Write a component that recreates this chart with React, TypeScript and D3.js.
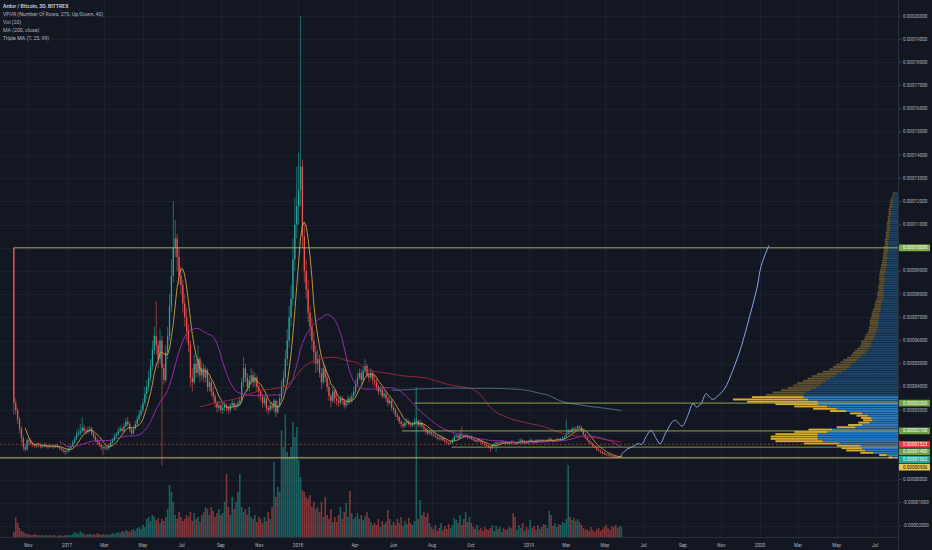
import React, { useEffect } from "react";
import * as d3 from "d3";

const W = 932;
const H = 550;
const PLOT_RIGHT = 898;
const PLOT_BOTTOM = 537;
const BG = "#131722";
const UP = "#26a69a";
const DOWN = "#ef5350";

// prices are in units of 1e-6 BTC, one candle every 3 days
const FIRST_DATE = Date.UTC(2016, 9, 9);
const BAR_DAYS = 3;
const FIRST_OPEN = 100;

const CLOSE = [
  33, 30, 26, 22, 18, 14, 13, 17, 16.5, 15.5,
  15, 14.5, 15, 14.8, 14.2, 14.5, 15, 14.3, 14.0, 14.6,
  14.5, 14.0, 14.8, 14.2, 13.5, 13.0, 12.5, 12.0, 12.2, 13.5,
  14.5, 16, 17.5, 19.5, 20, 21, 22.5, 21, 20.5, 21.5,
  22, 20, 18.5, 17, 16, 15, 14, 13.5, 14, 13.5,
  14.5, 16, 17, 18.5, 19.5, 21, 22, 21, 23, 25,
  24, 21.5, 20, 22, 24, 26, 28, 30, 33, 37,
  40, 44, 49, 56, 62, 58, 52, 60, 48, 43,
  55, 62, 75, 88, 100, 104, 96, 88, 84, 76,
  70, 64, 58, 44, 42, 50, 46, 52, 45, 48,
  44, 47, 40, 42, 38, 36, 33, 31, 32, 30,
  31, 32, 31, 30, 32, 33, 31.5, 32, 33, 34,
  42, 48, 44, 40, 43, 45, 42, 44, 40, 38,
  36, 33, 35, 31, 30, 32, 31, 34, 29, 32,
  35, 40, 44, 52, 60, 70, 78, 95, 110, 118,
  125, 135, 105, 90, 82, 72, 66, 60, 55, 50,
  52, 46, 42, 48, 44, 40, 36, 34, 38, 35,
  34, 33, 35, 34, 32, 33, 35, 34, 36, 38,
  41, 44, 46, 43, 47, 49, 45, 44, 46, 43,
  42, 40, 38, 39, 36, 37, 35, 33, 34, 31,
  30, 28, 27, 25, 24, 23, 24.5, 25, 24, 23.5,
  24, 25, 25.5, 23.5, 24.5, 23, 22, 21, 20, 20.5,
  19.5, 19, 18.5, 18, 17.5, 18, 17, 16.5, 16, 15.5,
  16, 17, 18.5, 19, 18, 19.5, 19, 18.5, 19, 18,
  18.3, 17.5, 17, 16.5, 17, 16.5, 16, 15.5, 15, 14.5,
  14, 13.5, 15, 15.5, 16, 15.5, 16, 16.5, 16, 15.5,
  16, 15.5, 16.5, 16, 15.5, 16, 16.5, 17, 16, 16.5,
  16, 16.5, 17, 16.5, 16, 17, 16.5, 17, 16.5, 17,
  16.5, 17, 17.5, 17, 16.5, 17, 17.5, 17, 17.5, 18,
  18.5, 20, 21, 20.5, 22, 21.5, 22, 23, 22.5, 21,
  19.5, 18, 17, 16, 15.5, 14.5, 14, 13, 12.5, 12,
  11.5, 11, 10.8, 10.5, 10.2, 10, 9.8, 9.6, 9.5, 9.8, 10.62,
];

const HIGH = [
  100, 35, 31, 27, 23, 19, 15, 18, 18, 17,
  16.5, 15.8, 15.8, 16, 15.5, 15.2, 16, 15.6, 15, 15.5,
  15.3, 15, 15.5, 15.2, 14.5, 14, 13.5, 13, 13, 14.2,
  15.5, 17, 18.5, 21, 22, 24, 27, 23.5, 22, 23,
  23, 22.8, 21, 19.5, 18, 17, 16, 15, 15, 15,
  15.5, 17, 18, 20, 20.5, 22.5, 23.5, 23, 24.5, 26.5,
  27, 25, 22.5, 23, 25.5, 27.5, 30, 32, 35, 40,
  43, 47, 52, 60, 66, 77, 60, 65, 62, 50,
  58, 66, 80, 95, 120, 112, 106, 100, 92, 86,
  80, 74, 67, 60, 48, 54, 52, 58, 53, 51,
  50, 49, 48, 44, 43, 40, 37, 34, 34, 33,
  32.5, 33.5, 33, 32, 33, 34.5, 34, 33, 34.5, 36,
  44, 53, 50, 46, 45, 48, 47, 46, 45, 41,
  39, 37, 36.5, 36, 32, 33.5, 33.5, 35, 34.5, 34,
  37, 43, 47, 56, 65, 75, 84, 104, 122, 135,
  141, 200, 138, 110, 95, 86, 75, 70, 64, 58,
  56, 54, 48, 51, 49, 46, 42, 37, 40, 39,
  38.5, 35.5, 36.5, 36, 35, 34.5, 36.5, 36, 37.5, 40,
  43, 46, 48, 47.5, 49, 52, 50, 47, 48, 47,
  45, 43.5, 41, 40.5, 40, 38.5, 38, 36, 35.5, 35,
  32, 31, 29, 27.5, 26, 25, 26, 26.5, 26, 25,
  25, 26.5, 26.5, 25.5, 26, 25, 24, 22.5, 22, 21.5,
  21, 20.5, 20, 19.5, 19, 19, 18.5, 18, 17, 16.5,
  16.8, 17.8, 19.5, 20, 19.5, 21, 23, 19.5, 20, 19.5,
  19, 19, 18, 17.5, 17.8, 17.5, 17, 16.5, 16, 15.5,
  15, 14.5, 15.5, 16, 16.5, 16.5, 16.5, 17, 17, 16.5,
  16.5, 16.5, 17, 17, 16.5, 16.5, 17.5, 18, 17.5, 17,
  17, 17, 18, 17.5, 17, 17.5, 17.5, 17.5, 17.5, 17.5,
  17.5, 17.5, 18.5, 18, 17.5, 17.5, 18, 18, 18, 18.5,
  19, 26, 22, 21.5, 22.5, 22.5, 23, 23.5, 23.5, 23,
  21.5, 20, 18.5, 17.5, 16.5, 16, 15, 14.5, 13.5, 13,
  12.3, 12, 11.5, 11.2, 11, 10.6, 10.3, 10.1, 10, 10.3, 10.8,
];

const LOW = [
  28, 28, 24, 20, 16, 12.5, 12, 12.5, 15, 14.5,
  14, 13.5, 13.8, 14, 13.5, 13.6, 14, 13.5, 13.2, 13.6,
  13.8, 13.2, 13.5, 13.6, 12.8, 12.2, 11.5, 10.8, 11.2, 11.8,
  13, 14, 15.5, 17, 18.5, 19, 20, 20, 19.5, 19.8,
  20.5, 19, 17.5, 16, 15, 14, 12.5, 10.5, 12.8, 12.5,
  12.8, 14, 15.5, 16.5, 18, 19, 20.5, 20, 20.5, 22.5,
  23, 20.5, 19, 19.5, 21.5, 23, 25, 27, 29, 32,
  35, 38, 42, 47, 54, 54, 48, 50, 6, 41,
  42, 52, 60, 72, 85, 96, 90, 84, 80, 72,
  66, 60, 55, 40, 38, 41, 44, 44, 42, 43,
  42, 42, 38, 38, 36, 34, 31, 29, 29.5, 28.5,
  28.5, 29.5, 29.5, 28.5, 29, 31, 30, 30, 31, 32,
  33, 40, 42, 38, 38, 41, 40, 40, 38, 35,
  34, 31, 32, 29, 28, 29, 30, 29, 27, 28.5,
  31, 34, 38, 42, 49, 57, 66, 75, 90, 104,
  110, 118, 100, 85, 78, 68, 62, 56, 50, 46,
  47, 44, 39, 41, 42, 38, 34, 31, 33, 33,
  32, 31.5, 32, 32.5, 30.5, 31, 32, 32.5, 33, 35,
  37, 40, 43, 41, 42, 46, 44, 42, 43, 41,
  40, 38.5, 36.5, 36.5, 35, 35, 33.5, 31.5, 32, 29.5,
  28.5, 27, 25.5, 24, 22.5, 22, 22.5, 23.5, 23, 22.5,
  22.5, 23, 24, 22.5, 22.5, 22, 21, 19.5, 19, 19,
  19, 18.5, 18, 17, 16.8, 16.8, 16.5, 15.8, 15, 14.8,
  15, 15.5, 16.5, 18, 17.5, 17.5, 18.5, 18, 18, 17.5,
  17.5, 17, 16.5, 16, 16, 16, 15.5, 15, 14.5, 14,
  13.5, 12, 13, 14.5, 12, 15, 15, 15.5, 15.5, 15,
  15, 15, 15, 15.5, 15, 15, 15.5, 16, 15.5, 15.5,
  15.5, 15.5, 16, 16, 15.5, 15.5, 16, 16, 16, 16,
  16, 16, 16.5, 16.5, 16, 16, 16.5, 16.5, 16.5, 17,
  17.5, 18, 19.5, 20, 20, 21, 21, 21.5, 22, 20.5,
  19, 17.5, 16.5, 15.5, 15, 14, 13.5, 12.5, 12, 11.5,
  11, 10.6, 10.3, 10, 9.8, 9.6, 9.4, 9.2, 9.2, 9.4, 9.6,
];

const VOLUME = [
  5, 20, 14, 9, 6, 5, 4, 3, 3, 2,
  2, 3, 2, 2, 1.5, 2, 1.5, 2, 1, 2,
  1.5, 2, 1.5, 1, 2, 1.5, 1, 2, 1.5, 2,
  2, 3, 5, 4, 3, 6, 4, 3, 2, 3,
  3, 2, 3, 2, 4, 3, 2, 3, 2, 3,
  2, 3, 4, 3, 4, 5, 4, 6, 5, 7,
  6, 5, 7, 8, 6, 9, 10, 8, 12, 10,
  18, 20, 16, 22, 20, 17, 19, 14, 18, 16,
  20, 28, 52, 45, 35, 22, 18, 25, 20, 16,
  18, 22, 20, 25, 16, 24, 18, 20, 15, 22,
  25, 30, 28, 22, 30, 26, 20, 24, 28, 22,
  24, 35, 63, 30, 22, 40, 28, 35, 45, 63,
  30, 25, 28, 22, 30, 20, 18, 22, 15, 20,
  18, 14, 20, 16, 25, 18, 30, 75, 40, 50,
  45, 107, 90, 123, 85, 80, 90, 115, 100, 110,
  77, 60, 47, 45, 40, 38, 42, 30, 35, 28,
  30, 25, 35, 20, 40, 22, 18, 28, 15, 20,
  15, 22, 30, 18, 25, 34, 20, 46, 24, 18,
  20, 24, 18, 22, 17, 21, 25, 19, 15, 12,
  14, 12, 18, 10, 16, 13, 15, 27, 18, 12,
  15, 12, 18, 14, 20, 11, 16, 13, 19, 14,
  12, 16, 150, 18, 37, 22, 25, 20, 24, 14,
  10, 8, 12, 6, 9, 14, 7, 11, 8, 13,
  9, 12, 19, 17, 14, 22, 12, 18, 25, 15,
  20, 14, 10, 8, 12, 7, 9, 6, 10, 8,
  7, 9, 12, 6, 11, 8, 10, 5, 9, 7,
  8, 10, 9, 24, 20, 7, 12, 9, 14, 6,
  10, 8, 17, 9, 11, 7, 12, 8, 10, 13,
  12, 9, 26, 22, 11, 14, 10, 13, 12, 15,
  14, 18, 72, 20, 17, 19, 16, 18, 15, 12,
  9, 7, 8, 6, 10, 7, 5, 8, 9, 6,
  8, 10, 12, 9, 7, 11, 10, 12, 9, 11, 10,
];

// volume profile, one row per 1e-6 BTC starting at VP_FIRST_ROW
const VP_FIRST_ROW = 9;
const VP_UP = [
  6, 12, 26, 35, 38, 40, 62, 80, 85, 85,
  85, 75, 70, 45, 38, 30, 27, 28, 32, 38,
  55, 65, 75, 85, 85, 95, 100, 100, 98, 92,
  87, 83, 80, 76, 72, 68, 64, 59, 54, 51,
  49, 45, 43, 40, 37, 35, 33, 31, 29, 28,
  28, 26, 25, 24, 23, 22, 22, 21, 21, 21,
  20, 20, 20, 19, 18, 18, 18, 17, 16, 15,
  15, 15, 15, 15, 15, 14, 14, 14, 14, 14,
  13, 13, 12, 12, 12, 12, 11, 11, 11, 10,
  10, 10, 10, 10, 10, 9, 9, 9, 8, 8,
  8, 8, 8, 8, 8, 7, 7, 7, 6, 6,
  5, 5, 5, 4, 3,
];
const VP_DOWN = [
  4, 8, 14, 20, 22, 25, 38, 50, 50, 50,
  45, 35, 25, 20, 15, 12, 10, 11, 12, 13,
  17, 25, 35, 45, 75, 80, 55, 40, 35, 32,
  30, 28, 27, 25, 24, 23, 22, 21, 19, 18,
  17, 16, 15, 14, 13, 13, 13, 12, 11, 11,
  11, 10, 10, 10, 9, 9, 9, 9, 9, 9,
  9, 8, 8, 8, 8, 7, 7, 7, 7, 7,
  7, 7, 6, 6, 6, 6, 6, 6, 6, 6,
  6, 6, 6, 6, 5, 5, 5, 5, 5, 5,
  5, 5, 4, 4, 4, 4, 4, 4, 4, 4,
  4, 4, 3, 3, 3, 3, 3, 3, 3, 3,
  3, 3, 2, 2, 2,
];
const VALUE_AREA = [9, 36];

// drawn levels
const LEVELS = [100, 33, 21, 14];
const LEVEL_START = ["2016-10-09", "2018-07-04", "2018-06-14", "2018-09-01"];
const SUPPORT = 9.36;
const POC = 15.23;

// hand-drawn projection
const PROJ_DATES = [
  "2019-05-27", "2019-06-04", "2019-06-14", "2019-06-22", "2019-06-28", "2019-07-06",
  "2019-07-13", "2019-07-21", "2019-07-27", "2019-08-06", "2019-08-19", "2019-08-31",
  "2019-09-09", "2019-09-17", "2019-09-23", "2019-09-30", "2019-10-08", "2019-10-18",
  "2019-10-27", "2019-11-06", "2019-11-19", "2019-12-03", "2019-12-16", "2019-12-27",
  "2020-01-03", "2020-01-15",
];
const PROJ_PRICES = [
  10.8, 13, 14.2, 15.5, 15.2, 19, 21.2, 17.7, 15.5, 20.7, 25.6, 23.1, 27.7,
  32.8, 31.3, 32.8, 37, 34.6, 36.3, 39.2, 47.1, 57.9, 70.8, 82.3, 92.4, 101,
];

const X_TICK_DATES = [
  "2016-11-01", "2017-01-01", "2017-03-01", "2017-05-01", "2017-07-01", "2017-09-01",
  "2017-11-01", "2018-01-01", "2018-04-01", "2018-06-01", "2018-08-01", "2018-10-01",
  "2019-01-01", "2019-03-01", "2019-05-01", "2019-07-01", "2019-09-01", "2019-11-01",
  "2020-01-01", "2020-03-01", "2020-05-01", "2020-07-01",
];
const X_TICK_LABELS = [
  "Nov", "2017", "Mar", "May", "Jul", "Sep", "Nov", "2018", "Apr", "Jun", "Aug", "Oct",
  "2019", "Mar", "May", "Jul", "Sep", "Nov", "2020", "Mar", "May", "Jul",
];

const LEGEND = [
  "Ardor / Bitcoin, 3D, BITTREX",
  "VPVR (Number Of Rows, 270, Up/Down, 40)",
  "Vol (20)",
  "MA (200, close)",
  "Triple MA (7, 25, 99)",
];

const MA_PERIODS = [7, 25, 99, 200];
const MA_COLORS = ["#c9a23e", "#a22db3", "#a8283f", "#56748f"];

const FONT = "Roboto, 'Liberation Sans', sans-serif";

const sma = (vals: number[], n: number) =>
  vals.map((_, i) => (i < n - 1 ? null : d3.mean(vals.slice(i - n + 1, i + 1)) as number));

const fmt = (v: number) => (v / 1e6).toFixed(8);

export default function App() {
  useEffect(() => {
    document.body.style.margin = "0";
    document.body.style.background = BG;
  }, []);

  const x = d3
    .scaleUtc()
    .domain([new Date(Date.UTC(2017, 0, 1)), new Date(Date.UTC(2020, 0, 1))])
    .range([67, 760]);
  const y = d3.scaleLinear().domain([0, 200]).range([479.6, 16]);
  const yVol = d3.scaleLinear().domain([0, 150]).range([PLOT_BOTTOM, 387]);

  const dateOf = (i: number) => new Date(FIRST_DATE + i * BAR_DAYS * 86400000);
  const bars = CLOSE.map((c, i) => {
    const o = i === 0 ? FIRST_OPEN : CLOSE[i - 1];
    return {
      x: x(dateOf(i)),
      o,
      c,
      h: Math.max(HIGH[i], o, c),
      l: Math.min(LOW[i], o, c),
      v: VOLUME[i],
      up: c >= o,
    };
  });

  const xTicks = X_TICK_DATES.map((d, i) => ({ x: x(new Date(d)), label: X_TICK_LABELS[i] }));

  const maLines = MA_PERIODS.map((n) => {
    const vals = sma(CLOSE, n);
    return d3
      .line<number | null>()
      .defined((d) => d !== null)
      .x((_, i) => bars[i].x)
      .y((d) => y(d as number))(vals) as string;
  });

  const vpTotals = VP_UP.map((u, i) => u + VP_DOWN[i]);
  const vpW = d3.scaleLinear().domain([0, d3.max(vpTotals) as number]).range([0, 165]);

  const projLine = d3
    .line<number>()
    .x((_, i) => x(new Date(PROJ_DATES[i])))
    .y((d) => y(d))
    .curve(d3.curveCatmullRom.alpha(0.5))(PROJ_PRICES) as string;

  // price labels on the axis, pushed apart when they overlap
  const lastClose = CLOSE[CLOSE.length - 1];
  const tags = [
    { v: LEVELS[0], bg: "#7fae46", fg: "#ffffff" },
    { v: LEVELS[1], bg: "#6e9f3f", fg: "#ffffff" },
    { v: LEVELS[2], bg: "#6e9f3f", fg: "#ffffff" },
    { v: POC, bg: "#e53935", fg: "#ffffff" },
    { v: LEVELS[3], bg: "#6e9f3f", fg: "#ffffff" },
    { v: lastClose, bg: "#26a69a", fg: "#ffffff" },
    { v: SUPPORT, bg: "#e8c84c", fg: "#131722" },
  ]
    .map((t) => ({ ...t, y: y(t.v) }))
    .sort((a, b) => a.y - b.y);
  for (let i = 1; i < tags.length; i++) {
    if (tags[i].y < tags[i - 1].y + 7.6) tags[i].y = tags[i - 1].y + 7.6;
  }

  // axis ticks hidden behind the coloured tags
  const priceTicks = d3.range(-20, 201, 10);
  const tickLabels = priceTicks.filter((t) => !tags.some((g) => Math.abs(g.y - y(t)) < 6.5));

  const levelColors = ["#a9b85e", "#a2b058", "#a2b058", "#7fa84e"];

  return (
    <svg width={W} height={H} style={{ display: "block", background: BG }} fontFamily={FONT}>
      <defs>
        <clipPath id="plot">
          <rect x={0} y={0} width={PLOT_RIGHT} height={PLOT_BOTTOM} />
        </clipPath>
      </defs>
      <rect x={0} y={0} width={W} height={H} fill={BG} />

      {/* grid */}
      <g stroke="#1b2030" strokeWidth={1}>
        {priceTicks.map((t) => (
          <line key={"gy" + t} x1={0} x2={PLOT_RIGHT} y1={Math.round(y(t)) + 0.5} y2={Math.round(y(t)) + 0.5} />
        ))}
        {xTicks.map((t, i) => (
          <line key={"gx" + i} x1={Math.round(t.x) + 0.5} x2={Math.round(t.x) + 0.5} y1={0} y2={PLOT_BOTTOM} />
        ))}
      </g>

      <g clipPath="url(#plot)">
        {/* volume */}
        {bars.map((b, i) => (
          <rect
            key={"v" + i}
            x={b.x - 0.8}
            y={yVol(b.v)}
            width={1.6}
            height={PLOT_BOTTOM - yVol(b.v)}
            fill={b.up ? UP : DOWN}
            opacity={0.5}
          />
        ))}

        {/* candles */}
        {bars.map((b, i) => {
          const top = y(Math.max(b.o, b.c));
          const bot = y(Math.min(b.o, b.c));
          const col = b.up ? UP : DOWN;
          return (
            <g key={"c" + i}>
              <line x1={b.x} x2={b.x} y1={y(b.h)} y2={y(b.l)} stroke={col} strokeWidth={0.6} />
              <rect x={b.x - 0.65} y={top} width={1.3} height={Math.max(0.6, bot - top)} fill={col} />
            </g>
          );
        })}

        {/* moving averages */}
        {maLines.map((d, i) => (
          <path key={"ma" + i} d={d} fill="none" stroke={MA_COLORS[i]} strokeWidth={0.9} />
        ))}

        {/* volume profile */}
        {VP_UP.map((u, i) => {
          const p = VP_FIRST_ROW + i;
          const top = y(p + 1);
          const h = y(p) - top - 0.35;
          const inVA = p >= VALUE_AREA[0] && p < VALUE_AREA[1];
          const wu = vpW(u);
          const wd = vpW(VP_DOWN[i]);
          return (
            <g key={"vp" + i}>
              <rect x={PLOT_RIGHT - wu} y={top} width={wu} height={h} fill={inVA ? "#2a7bbf" : "#1c4468"} />
              <rect x={PLOT_RIGHT - wu - wd} y={top} width={wd} height={h} fill={inVA ? "#d9aa2e" : "#5e5230"} />
            </g>
          );
        })}

        {/* drawn levels */}
        {LEVELS.map((lv, i) => (
          <line
            key={"lv" + i}
            x1={x(new Date(LEVEL_START[i]))}
            x2={PLOT_RIGHT}
            y1={y(lv)}
            y2={y(lv)}
            stroke={levelColors[i]}
            strokeWidth={0.9}
          />
        ))}
        <line x1={0} x2={PLOT_RIGHT} y1={y(SUPPORT)} y2={y(SUPPORT)} stroke="#d8ca6e" strokeWidth={0.9} />
        <line
          x1={0}
          x2={PLOT_RIGHT}
          y1={y(POC)}
          y2={y(POC)}
          stroke="#d8403a"
          strokeWidth={0.8}
          strokeDasharray="2,2"
          opacity={0.85}
        />

        {/* projection */}
        <path d={projLine} fill="none" stroke="#86a3e6" strokeWidth={1} />
      </g>

      {/* axes */}
      <line x1={PLOT_RIGHT + 0.5} x2={PLOT_RIGHT + 0.5} y1={0} y2={H} stroke="#2a2e39" />
      <line x1={0} x2={PLOT_RIGHT} y1={PLOT_BOTTOM + 0.5} y2={PLOT_BOTTOM + 0.5} stroke="#2a2e39" />
      <g fontSize={4.6} fill="#b2b5be">
        {tickLabels.map((t) => (
          <g key={"pt" + t}>
            <line x1={PLOT_RIGHT + 1} x2={PLOT_RIGHT + 3} y1={y(t)} y2={y(t)} stroke="#70747e" strokeWidth={0.5} />
            <text x={PLOT_RIGHT + 5} y={y(t)} dominantBaseline="central">
              {fmt(t)}
            </text>
          </g>
        ))}
        {xTicks.map((t, i) => (
          <text key={"xt" + i} x={t.x} y={545} textAnchor="middle" dominantBaseline="central">
            {t.label}
          </text>
        ))}
      </g>

      {/* axis price tags */}
      {tags.map((t, i) => (
        <g key={"tag" + i}>
          <rect x={PLOT_RIGHT + 1} y={t.y - 3.4} width={31} height={6.8} fill={t.bg} rx={0.6} />
          <text x={PLOT_RIGHT + 5} y={t.y} fontSize={4.6} fill={t.fg} dominantBaseline="central">
            {fmt(t.v)}
          </text>
        </g>
      ))}

      {/* legend */}
      <g fontSize={5.2}>
        {LEGEND.map((s, i) => (
          <text
            key={"lg" + i}
            x={3}
            y={7.5 + i * 8.2}
            fill={i === 0 ? "#d1d4dc" : "#b2b5be"}
            fontWeight={i === 0 ? 600 : 400}
          >
            {s}
          </text>
        ))}
      </g>
    </svg>
  );
}
